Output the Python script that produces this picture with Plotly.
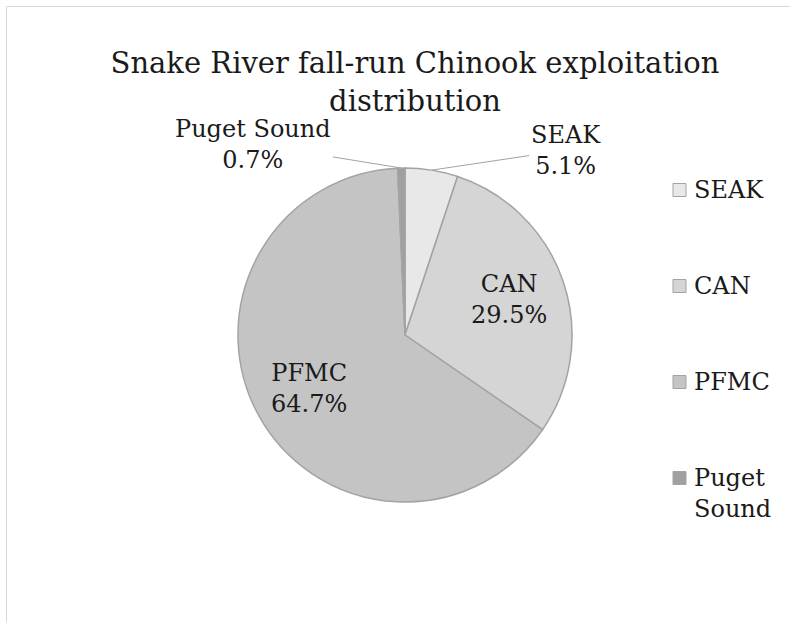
import math
import plotly.graph_objects as go

# ---- data ----
labels = ["SEAK", "CAN", "PFMC", "Puget Sound"]
legend_labels = ["SEAK", "CAN", "PFMC", "Puget<br>Sound"]
values = [5.1, 29.5, 64.7, 0.7]
colors = ["#e8e8e8", "#d5d5d5", "#c4c4c4", "#a0a0a0"]
outside = [True, False, False, True]
title_text = "Snake River fall-run Chinook exploitation<br>distribution"

# ---- layout constants (page pixels) ----
W, H = 790, 622
CX, CY, R = 405, 335, 167
FONT = "DejaVu Serif"
TXT = "#1a1a1a"
LINE = "#a3a3a3"
FS = 24
label_offsets = {0: (134, -20), 3: (-148, -24)}
INSIDE_R = 0.66

fig = go.Figure(
    go.Pie(
        labels=labels,
        values=values,
        sort=False,
        direction="clockwise",
        rotation=0,
        marker=dict(colors=colors, line=dict(color=LINE, width=1.5)),
        textinfo="none",
        showlegend=False,
        domain=dict(
            x=[(CX - R) / W, (CX + R) / W],
            y=[(H - CY - R) / H, (H - CY + R) / H],
        ),
        hoverinfo="label+percent",
    )
)

annotations = []
shapes = []

total = sum(values)
cum = 0.0
for i, v in enumerate(values):
    mid = (cum + v / 2) / total
    cum += v
    th = 2 * math.pi * mid
    txt = f"{labels[i]}<br>{values[i]:.1f}%"
    if outside[i]:
        hx = CX + R * math.sin(th)
        hy = CY - R * math.cos(th)
        ax, ay = label_offsets[i]
        annotations.append(
            dict(
                x=hx / W, y=1 - hy / H, xref="paper", yref="paper",
                text=txt,
                showarrow=True, arrowhead=0, arrowwidth=1, arrowcolor=LINE,
                ax=ax, ay=ay, standoff=0,
                font=dict(family=FONT, size=FS, color=TXT),
            )
        )
    else:
        tx = CX + INSIDE_R * R * math.sin(th)
        ty = CY - INSIDE_R * R * math.cos(th)
        annotations.append(
            dict(
                x=tx / W, y=1 - ty / H, xref="paper", yref="paper",
                text=txt, showarrow=False,
                xanchor="center", yanchor="middle",
                font=dict(family=FONT, size=FS, color=TXT),
            )
        )

# custom legend
LEG_X_SQ, LEG_SQ, LEG_X_TXT = 673, 13, 692
LEG_TOP, LEG_GAP, LH = 190, 96, FS * 1.3
for i, name in enumerate(legend_labels):
    yc = LEG_TOP + i * LEG_GAP
    nlines = name.count("<br>") + 1
    shapes.append(
        dict(
            type="rect", xref="paper", yref="paper",
            x0=LEG_X_SQ / W, x1=(LEG_X_SQ + LEG_SQ) / W,
            y0=1 - (yc + LEG_SQ / 2) / H, y1=1 - (yc - LEG_SQ / 2) / H,
            fillcolor=colors[i], line=dict(color=LINE, width=1),
        )
    )
    annotations.append(
        dict(
            x=LEG_X_TXT / W, y=1 - (yc + (nlines - 1) * LH / 2) / H,
            xref="paper", yref="paper", xanchor="left", yanchor="middle",
            align="left", showarrow=False, text=name,
            font=dict(family=FONT, size=FS, color=TXT),
        )
    )

# chart-area frame
shapes.append(
    dict(
        type="rect", xref="paper", yref="paper",
        x0=6.5 / W, x1=1.2, y0=-0.2, y1=1 - 6.5 / H,
        line=dict(color="#d9d9d9", width=1), fillcolor="rgba(0,0,0,0)",
    )
)

fig.update_layout(
    width=W, height=H,
    margin=dict(l=0, r=0, t=0, b=0),
    paper_bgcolor="white", plot_bgcolor="white",
    title=dict(
        text=title_text, x=415 / W, xanchor="center",
        y=1 - 73 / H, yanchor="top", yref="container",
        font=dict(family=FONT, size=29, color=TXT),
    ),
    annotations=annotations,
    shapes=shapes,
)

fig.write_html(
    "out.html",
    config={"displayModeBar": False},
    post_script="document.body.style.margin='0px';",
)
